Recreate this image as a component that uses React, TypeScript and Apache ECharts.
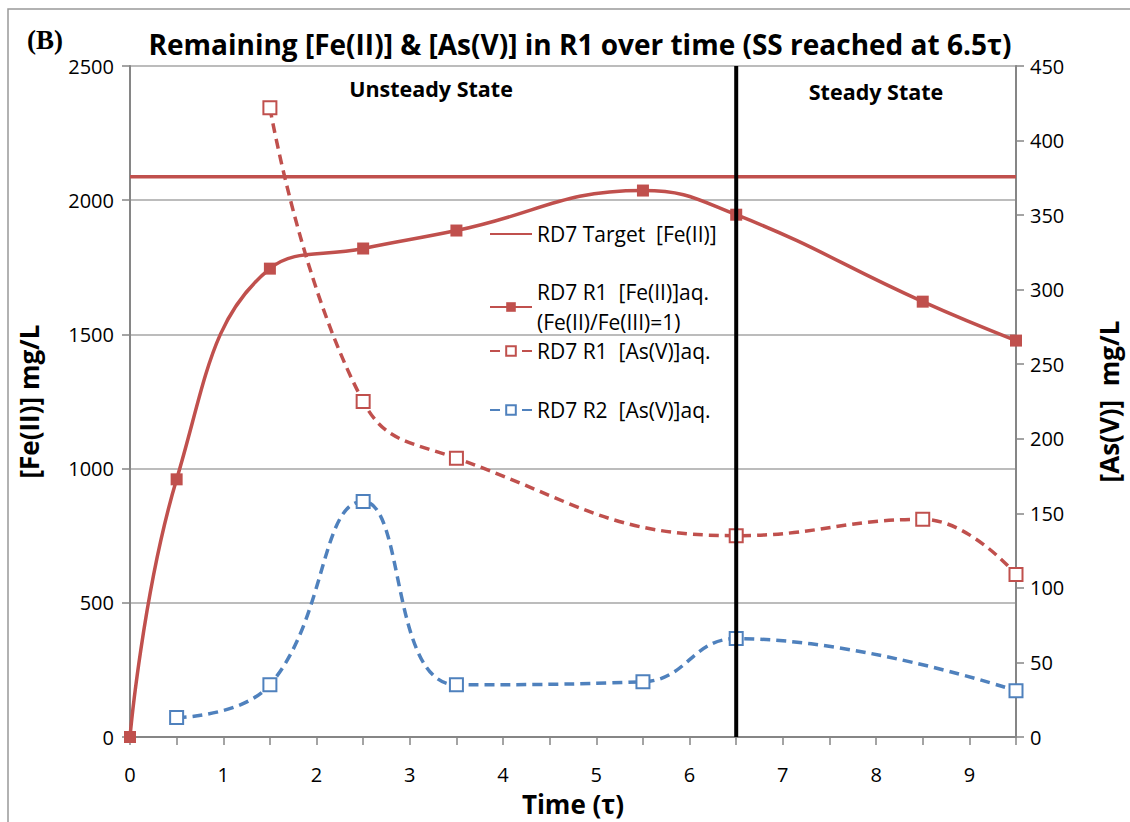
import React, { useEffect, useRef } from "react";
import * as echarts from "echarts";

// Data
const timeFeR1 = [0, 0.5, 1.5, 2.5, 3.5, 5.5, 6.5, 8.5, 9.5];
const feR1 = [0, 960, 1745, 1820, 1887, 2036, 1946, 1622, 1477];
const targetTime = [0, 9.5];
const targetFe = [2087, 2087];
const timeAsR1 = [1.5, 2.5, 3.5, 6.5, 8.5, 9.5];
const asR1 = [422, 225, 187, 135, 146, 109];
const timeAsR2 = [0.5, 1.5, 2.5, 3.5, 5.5, 6.5, 9.5];
const asR2 = [13, 35, 158, 35, 37, 66, 31];
const ssTime = [6.5, 6.5];
const ssFe = [0, 2500];

const nameTarget = "RD7 Target  [Fe(II)]";
const nameFeR1 = "RD7 R1  [Fe(II)]aq.\n(Fe(II)/Fe(III)=1)";
const nameAsR1 = "RD7 R1  [As(V)]aq.";
const nameAsR2 = "RD7 R2  [As(V)]aq.";

const RED = "#C0504D";
const BLUE = "#4F81BD";
const AXIS = "#868686";
const FONT = "'Open Sans', Lato, 'DejaVu Sans', sans-serif";

const zip = (xs: number[], ys: number[]) => xs.map((x, i) => [x, ys[i]]);

export default function App() {
  const ref = useRef<HTMLDivElement>(null);
  useEffect(() => {
    document.body.style.margin = "0";
    const chart = echarts.init(ref.current!, undefined, { renderer: "svg" });
    const legendText = { fontFamily: FONT, fontSize: 21, color: "#000", lineHeight: 30 };
    const legendBase = {
      orient: "vertical",
      left: 484,
      itemWidth: 42,
      itemHeight: 12,
    };
    chart.setOption({
      animation: false,
      backgroundColor: "#fff",
      textStyle: { fontFamily: FONT },
      title: {
        text: "Remaining [Fe(II)] & [As(V)] in R1 over time (SS reached at 6.5τ)",
        left: 575,
        textAlign: "center",
        top: 25,
        textStyle: { fontFamily: FONT, fontSize: 28, fontWeight: "bold", color: "#000" },
      },
      graphic: [
        {
          type: "rect",
          shape: { x: 8, y: 9, width: 1140, height: 840 },
          style: { fill: "none", stroke: "#999", lineWidth: 1.5 },
          silent: true,
        },
        {
          type: "text",
          left: 27,
          top: 26,
          style: { text: "(B)", font: "bold 27px 'Liberation Serif', 'DejaVu Serif', serif", fill: "#000" },
        },
        {
          type: "text",
          x: 431,
          y: 88,
          style: {
            text: "Unsteady State",
            font: `bold 21.5px ${FONT}`,
            fill: "#000",
            align: "center",
            verticalAlign: "middle",
          },
        },
        {
          type: "text",
          x: 876,
          y: 91,
          style: {
            text: "Steady State",
            font: `bold 21.5px ${FONT}`,
            fill: "#000",
            align: "center",
            verticalAlign: "middle",
          },
        },
      ],
      legend: [
        {
          ...legendBase,
          top: 214,
          textStyle: legendText,
          data: [{ name: nameTarget, itemStyle: { opacity: 0 } }],
        },
        {
          ...legendBase,
          top: 257,
          textStyle: { ...legendText, padding: [30, 0, 0, 0] },
          data: [nameFeR1],
        },
        {
          ...legendBase,
          top: 331,
          itemGap: 29,
          textStyle: legendText,
          data: [nameAsR1, nameAsR2],
        },
      ],
      grid: { left: 130, right: 108, top: 66, bottom: 83, containLabel: false },
      xAxis: {
        type: "value",
        min: 0,
        max: 9.5,
        interval: 0.5,
        name: "Time (τ)",
        nameLocation: "middle",
        nameGap: 54,
        nameTextStyle: { fontFamily: FONT, fontSize: 26, fontWeight: "bold", color: "#000" },
        axisLine: { show: true, lineStyle: { color: AXIS, width: 2 } },
        axisTick: { show: true, length: 8, lineStyle: { color: AXIS, width: 1.5 } },
        axisLabel: {
          fontFamily: FONT,
          fontSize: 20,
          color: "#000",
          margin: 27,
          formatter: (v: number) => (Math.abs(v - Math.round(v)) < 1e-6 ? String(Math.round(v)) : ""),
        },
        splitLine: { show: false },
      },
      yAxis: [
        {
          type: "value",
          min: 0,
          max: 2500,
          interval: 500,
          position: "left",
          name: "[Fe(II)] mg/L",
          nameLocation: "middle",
          nameRotate: 90,
          nameGap: 88,
          nameTextStyle: { fontFamily: FONT, fontSize: 26, fontWeight: "bold", color: "#000" },
          axisLine: { show: true, lineStyle: { color: AXIS, width: 2 } },
          axisTick: { show: true, length: 8, lineStyle: { color: AXIS, width: 1.5 } },
          axisLabel: { fontFamily: FONT, fontSize: 20, color: "#000", margin: 16, formatter: (v: number) => String(v) },
          splitLine: { show: true, lineStyle: { color: "#A6A6A6", width: 1.5 } },
        },
        {
          type: "value",
          min: 0,
          max: 450,
          interval: 50,
          position: "right",
          name: "[As(V)]  mg/L",
          nameLocation: "middle",
          nameRotate: 90,
          nameGap: 80,
          nameTextStyle: { fontFamily: FONT, fontSize: 26, fontWeight: "bold", color: "#000" },
          axisLine: { show: true, lineStyle: { color: AXIS, width: 2 } },
          axisTick: { show: true, length: 8, lineStyle: { color: AXIS, width: 1.5 } },
          axisLabel: { fontFamily: FONT, fontSize: 20, color: "#000", margin: 14, formatter: (v: number) => String(v) },
          splitLine: { show: false },
        },
      ],
      series: [
        {
          name: nameTarget,
          type: "line",
          data: zip(targetTime, targetFe),
          showSymbol: false,
          symbol: "none",
          lineStyle: { color: RED, width: 3.5 },
          itemStyle: { color: RED },
          z: 3,
        },
        {
          name: nameFeR1,
          type: "line",
          data: zip(timeFeR1, feR1),
          smooth: 0.45,
          symbol: "rect",
          symbolSize: 12,
          lineStyle: { color: RED, width: 3.5 },
          itemStyle: { color: RED },
          z: 4,
        },
        {
          name: nameAsR1,
          type: "line",
          yAxisIndex: 1,
          data: zip(timeAsR1, asR1),
          smooth: 0.45,
          symbol: "emptyRect",
          symbolSize: 13,
          lineStyle: { color: RED, width: 3.5, type: [10, 6] },
          itemStyle: { color: RED, borderColor: RED, borderWidth: 1.5 },
          z: 4,
        },
        {
          name: nameAsR2,
          type: "line",
          yAxisIndex: 1,
          data: zip(timeAsR2, asR2),
          smooth: 0.45,
          symbol: "emptyRect",
          symbolSize: 13,
          lineStyle: { color: BLUE, width: 3.5, type: [10, 6] },
          itemStyle: { color: BLUE, borderColor: BLUE, borderWidth: 1.5 },
          z: 4,
        },
        {
          name: "SS",
          type: "line",
          data: zip(ssTime, ssFe),
          symbol: "none",
          lineStyle: { color: "#000", width: 4 },
          z: 5,
        },
      ],
    });
    return () => chart.dispose();
  }, []);
  return <div ref={ref} style={{ width: 1130, height: 822 }} />;
}
